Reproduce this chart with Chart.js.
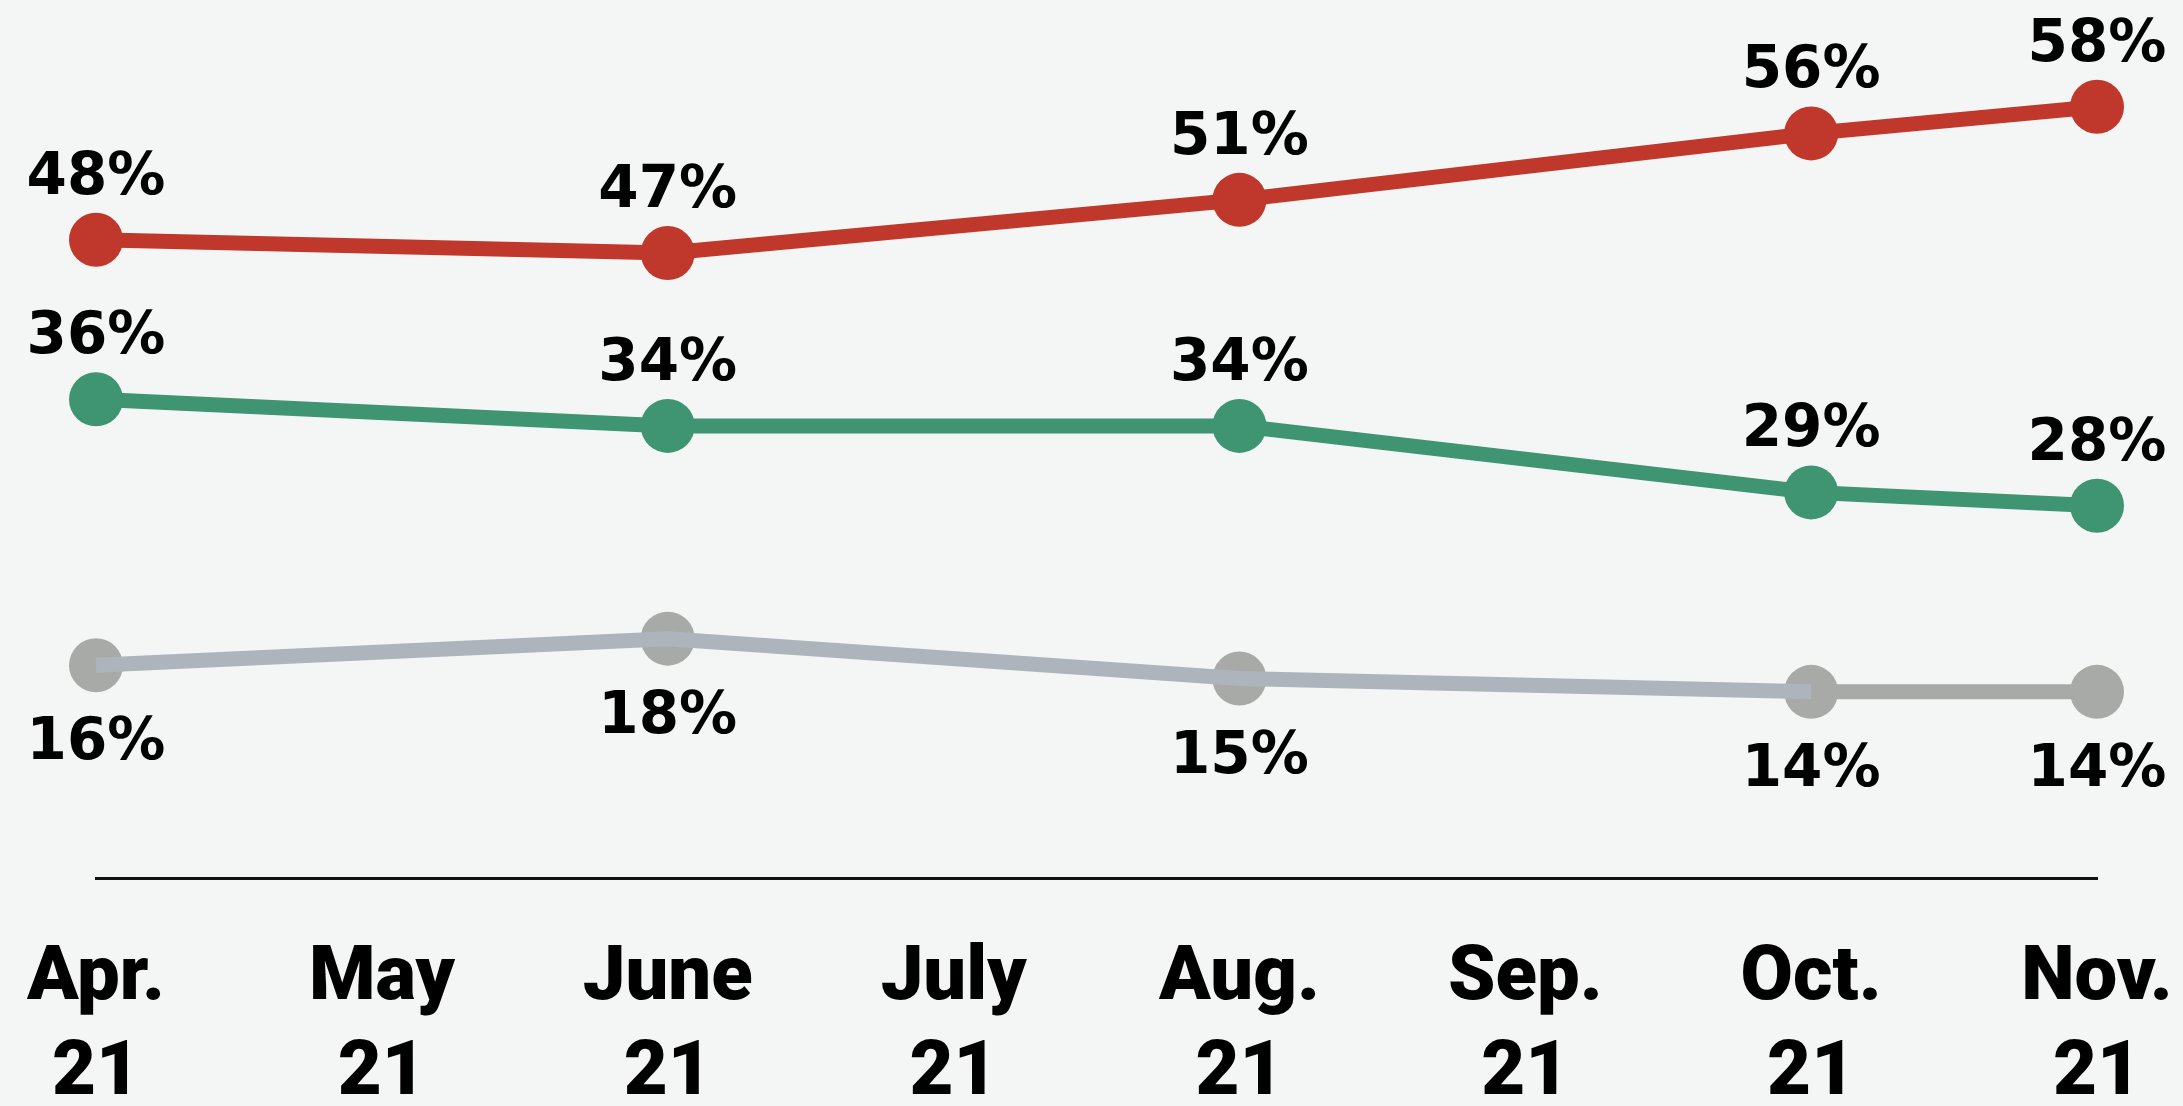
<!DOCTYPE html>
<html>
<head>
<meta charset="utf-8">
<script src="https://cdn.jsdelivr.net/npm/chart.js@4"></script>
<style>
    html, body { margin: 0; padding: 0; background: #f4f6f5; overflow: hidden; }
    #chart { display: block; }
</style>
</head>
<body>
<canvas id="chart" width="2183" height="1106"></canvas>
<script>
// Данные графика
const months = [['Apr.', '21'], ['May', '21'], ['June', '21'], ['July', '21'],
                ['Aug.', '21'], ['Sep.', '21'], ['Oct.', '21'], ['Nov.', '21']];
const redValues   = [48, null, 47, null, 51, null, 56, 58];
const greenValues = [36, null, 34, null, 34, null, 29, 28];
const grayValues  = [16, null, 18, null, 15, null, 14, 14];

const RED = '#c0372b';
const GREEN = '#3f9472';
const GRAY_POINT = '#a8aaa8';
const GRAY_LINE = '#aeb4bc';

// Подписи значений над / под точками
const valueLabels = {
    id: 'valueLabels',
    afterDatasetsDraw(chart) {
        const ctx = chart.ctx;
        ctx.save();
        ctx.font = 'bold 58px "DejaVu Sans"';
        ctx.fillStyle = '#000';
        ctx.textAlign = 'center';
        ctx.textBaseline = 'alphabetic';
        chart.data.datasets.forEach((ds, i) => {
            if (!ds.labelPos) return;
            const meta = chart.getDatasetMeta(i);
            meta.data.forEach((pt, j) => {
                const v = ds.data[j];
                if (v === null) return;
                const y = ds.labelPos === 'above' ? pt.y - 46 : pt.y + 94;
                ctx.fillText(v + '%', pt.x, y);
            });
        });
        ctx.restore();
    }
};

const common = {
    borderWidth: 15,
    borderCapStyle: 'butt',
    pointRadius: 27,
    pointHoverRadius: 27,
    pointBorderWidth: 0,
    spanGaps: true,
    tension: 0,
    clip: false
};

new Chart(document.getElementById('chart').getContext('2d'), {
    type: 'line',
    data: {
        labels: months,
        datasets: [
            Object.assign({}, common, {
                data: grayValues,
                borderColor: GRAY_LINE,
                pointRadius: 0,
                pointHoverRadius: 0,
                segment: {
                    borderColor: c => c.p0DataIndex === 6 ? GRAY_POINT : GRAY_LINE
                },
                order: 1
            }),
            Object.assign({}, common, {
                data: grayValues,
                showLine: false,
                pointBackgroundColor: GRAY_POINT,
                labelPos: 'below',
                order: 2
            }),
            Object.assign({}, common, {
                data: greenValues,
                borderColor: GREEN,
                pointBackgroundColor: GREEN,
                labelPos: 'above',
                order: 0
            }),
            Object.assign({}, common, {
                data: redValues,
                borderColor: RED,
                pointBackgroundColor: RED,
                labelPos: 'above',
                order: 0
            })
        ]
    },
    options: {
        responsive: false,
        maintainAspectRatio: false,
        animation: false,
        layout: { padding: { left: 96, right: 86, top: 11, bottom: 0 } },
        plugins: {
            legend: { display: false },
            tooltip: { enabled: false }
        },
        scales: {
            x: {
                offset: false,
                // невидимые засечки дают отступ подписей вниз
                grid: { display: false, drawTicks: true, tickLength: 54 },
                border: { display: true, color: '#111', width: 3 },
                ticks: {
                    color: '#000',
                    font: { family: 'Roboto', size: 76, weight: '900', lineHeight: 1.25 },
                    padding: 0,
                    maxRotation: 0,
                    autoSkip: false
                },
                afterFit(scale) { scale.height = 228; }
            },
            y: {
                display: false,
                min: 0,
                max: 64
            }
        }
    },
    plugins: [valueLabels]
});
</script>
</body>
</html>
